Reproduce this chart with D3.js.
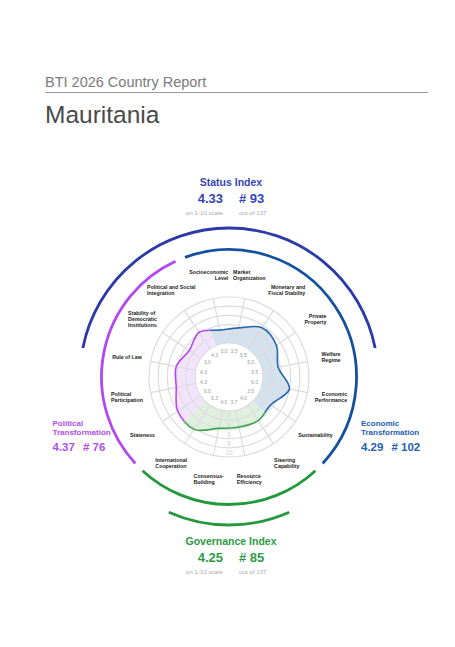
<!DOCTYPE html>
<html><head><meta charset="utf-8">
<script src="https://cdn.jsdelivr.net/npm/d3@7"></script>
<style>body{margin:0;background:#fff}</style>
</head><body>
<svg id="c" width="455" height="647"></svg>
<script>
// ---- data ----
const criteria = ["Socioeconomic Level","Market Organization","Monetary and Fiscal Stability","Private Property","Welfare Regime","Economic Performance","Sustainability","Steering Capability","Resource Efficiency","Consensus-Building","International Cooperation","Stateness","Political Participation","Rule of Law","Stability of Democratic Institutions","Political and Social Integration"];
const labelLines = [["Socioeconomic","Level"],["Market","Organization"],["Monetary and","Fiscal Stability"],["Private","Property"],["Welfare","Regime"],["Economic","Performance"],["Sustainability"],["Steering","Capability"],["Resource","Efficiency"],["Consensus-","Building"],["International","Cooperation"],["Stateness"],["Political","Participation"],["Rule of Law"],["Stability of","Democratic","Institutions"],["Political and Social","Integration"]];
const scores = [3.0,3.5,5.5,5.0,3.5,6.0,3.5,4.0,3.7,4.0,6.3,6.0,4.3,4.3,3.0,4.3];
const groupOf = ["econ","econ","econ","econ","econ","econ","econ","gov","gov","gov","gov","pol","pol","pol","pol","pol"];
const groups = ["econ","gov","pol"];
const ringTicks = [2,4,6,8,10];
const indexNames = {status:"Status Index", econ:["Economic","Transformation"], pol:["Political","Transformation"], gov:"Governance Index"};
const indexScores = {status:4.33, econ:4.29, pol:4.37, gov:4.25};
const indexRanks = {status:93, econ:102, pol:76, gov:85};
const totalCountries = 137;

// ---- styles ----
const col = {
  econ:{line:"#2766b0", fill:"#d4e1ef", arc:"#14509e", text:"#2461ae"},
  gov:{line:"#3aa550", fill:"#dff0df", arc:"#24983c", text:"#2f9a46"},
  pol:{line:"#b44cf2", fill:"#f3e4fd", arc:"#b248f2", text:"#b04ff0"},
  status:{arc:"#2a3aa6", text:"#3446b9"}
};
const F = "'Liberation Sans', Arial, sans-serif";
const svg = d3.select("#c");
const cx = 229, cy = 377;
const deg = Math.PI/180;

// title
svg.append("text").attr("x",45).attr("y",86.5).attr("font-family",F).attr("font-size",14.5).attr("fill","#7b7b7b").text("BTI 2026 Country Report");
svg.append("line").attr("x1",45).attr("x2",428).attr("y1",92.5).attr("y2",92.5).attr("stroke","#9a9a9a").attr("stroke-width",1);
svg.append("text").attr("x",45).attr("y",122.5).attr("font-family",F).attr("font-size",24.5).attr("fill","#4a4a4a").text("Mauritania");

// scales
const angle = d3.scaleBand().domain(criteria).range([-22.5*deg, 337.5*deg]);
const ang = c => angle(c) + angle.bandwidth()/2;
const r = d3.scaleLinear().domain([0,10]).range([34,80]);

const defs = svg.append("defs");
const layer = () => svg.append("g").attr("transform",`translate(${cx},${cy})`);
const fillL = layer(), holeL = layer(), gridL = layer(), lineL = layer(), textL = layer(), arcL = layer();

const groupRange = grp => {
  const cs = criteria.filter((c,i)=>groupOf[i]===grp);
  return [angle(cs[0]), angle(cs[cs.length-1]) + angle.bandwidth()];
};
groups.forEach(grp=>{
  const [a0,a1] = groupRange(grp);
  defs.append("clipPath").attr("id","clip-"+grp).append("path")
    .attr("d", d3.arc()({innerRadius:0, outerRadius:140, startAngle:a0, endAngle:a1}));
});

const radial = d3.lineRadial()
  .angle((d,i)=>ang(criteria[i]))
  .radius(d=>r(d))
  .curve(d3.curveCardinalClosed);
const shape = radial(scores);

// fills
groups.forEach(grp=>{
  fillL.append("path").attr("clip-path",`url(#clip-${grp})`)
    .attr("d",shape).attr("fill",col[grp].fill).attr("stroke","none");
});
holeL.append("circle").attr("r",r(0)).attr("fill","#fff");

// grid
const grid = gridL.append("g").attr("fill","none").attr("stroke","#dcdcdc").attr("stroke-width",1.2);
[0].concat(ringTicks).forEach(v=>grid.append("circle").attr("r",r(v)));
criteria.forEach(c=>{
  const a = ang(c);
  grid.append("line")
    .attr("x1",r(0)*Math.sin(a)).attr("y1",-r(0)*Math.cos(a))
    .attr("x2",r(10)*Math.sin(a)).attr("y2",-r(10)*Math.cos(a));
});

// strokes
groups.forEach(grp=>{
  lineL.append("path").attr("clip-path",`url(#clip-${grp})`)
    .attr("d",shape).attr("fill","none").attr("stroke",col[grp].line).attr("stroke-width",1.6);
});

// ring labels
ringTicks.forEach(v=>{
  textL.append("text").attr("x",0).attr("y",r(v)-4).attr("dy","0.35em")
    .attr("text-anchor","middle").attr("font-family",F).attr("font-size",6.5)
    .attr("fill","#cfcfcf").text(v);
});
// value labels
criteria.forEach((c,i)=>{
  const a = ang(c), rr = 26;
  textL.append("text").attr("x",rr*Math.sin(a)).attr("y",-rr*Math.cos(a)).attr("dy","0.35em")
    .attr("text-anchor","middle").attr("font-family",F).attr("font-size",5)
    .attr("fill","#9a9a9a").text(d3.format(".1f")(scores[i]));
});

// criteria labels
const LR = 104, LH = 6.1;
criteria.forEach((c,i)=>{
  const a = ang(c);
  const d = (a/deg + 360) % 360;
  const px = LR*Math.sin(a), py = -LR*Math.cos(a);
  let align;
  if (d > 340 || d < 20) align = (d > 180) ? "end" : "start";
  else if (d < 135) align = "end";
  else align = "start";
  const lines = labelLines[i];
  const t = textL.append("text").attr("font-family",F).attr("font-size",5.3).attr("font-weight","bold").attr("fill","#1a1a1a");
  const spans = lines.map(ln=> t.append("tspan").attr("x",0).attr("y",0).text(ln));
  const w = d3.max(spans, s=>s.node().getComputedTextLength());
  const x0 = align==="end" ? px + w/2 : px - w/2;
  const y0 = py - (lines.length-1)*LH/2;
  t.attr("text-anchor",align);
  spans.forEach((s,k)=> s.attr("x",x0).attr("y",y0 + k*LH).attr("dy","0.35em"));
});

// arcs
const arcGen = d3.arc();
const gap = 2.3*deg;
groups.forEach(grp=>{
  const [a0,a1] = groupRange(grp);
  arcL.append("path").attr("d",arcGen({innerRadius:127.5,outerRadius:127.5,startAngle:a0+gap,endAngle:a1-gap}))
    .attr("fill","none").attr("stroke",col[grp].arc).attr("stroke-width",2.8);
});
arcL.append("path").attr("d",arcGen({innerRadius:149,outerRadius:149,startAngle:-78.75*deg,endAngle:78.75*deg}))
  .attr("fill","none").attr("stroke",col.status.arc).attr("stroke-width",2.8);
arcL.append("path").attr("d",arcGen({innerRadius:148,outerRadius:148,startAngle:156*deg,endAngle:204*deg}))
  .attr("fill","none").attr("stroke",col.gov.arc).attr("stroke-width",2.8);

// index blocks
function centerBlock(key, titleY, color){
  svg.append("text").attr("x",231).attr("y",titleY).attr("text-anchor","middle")
    .attr("font-family",F).attr("font-weight","bold").attr("font-size",10.5).attr("fill",color).text(indexNames[key]);
  svg.append("text").attr("x",223).attr("y",titleY+17).attr("text-anchor","end")
    .attr("font-family",F).attr("font-weight","bold").attr("font-size",13).attr("fill",color).text(d3.format(".2f")(indexScores[key]));
  svg.append("text").attr("x",239).attr("y",titleY+17).attr("text-anchor","start")
    .attr("font-family",F).attr("font-weight","bold").attr("font-size",13).attr("fill",color).text("# "+indexRanks[key]);
  svg.append("text").attr("x",223).attr("y",titleY+29).attr("text-anchor","end")
    .attr("font-family",F).attr("font-size",6.2).attr("fill","#ababab").text("on 1-10 scale");
  svg.append("text").attr("x",239).attr("y",titleY+29).attr("text-anchor","start")
    .attr("font-family",F).attr("font-size",6.2).attr("fill","#ababab").text("out of "+totalCountries);
}
centerBlock("status",185.5,col.status.text);
centerBlock("gov",545,col.gov.text);

function sideBlock(key, x, y0, color){
  indexNames[key].forEach((ln,k)=>{
    svg.append("text").attr("x",x).attr("y",y0+k*9.5).attr("font-family",F).attr("font-weight","bold")
      .attr("font-size",8).attr("fill",color).text(ln);
  });
  const n = svg.append("text").attr("x",x).attr("y",y0+25.5).attr("font-family",F).attr("font-weight","bold")
    .attr("font-size",11.5).attr("fill",color).text(d3.format(".2f")(indexScores[key]));
  const w = n.node().getComputedTextLength();
  svg.append("text").attr("x",x+w+8).attr("y",y0+25.5).attr("font-family",F).attr("font-weight","bold")
    .attr("font-size",11.5).attr("fill",color).text("# "+indexRanks[key]);
}
sideBlock("pol",52.5,425.5,col.pol.text);
sideBlock("econ",361,425.5,col.econ.text);
</script>
</body></html>
